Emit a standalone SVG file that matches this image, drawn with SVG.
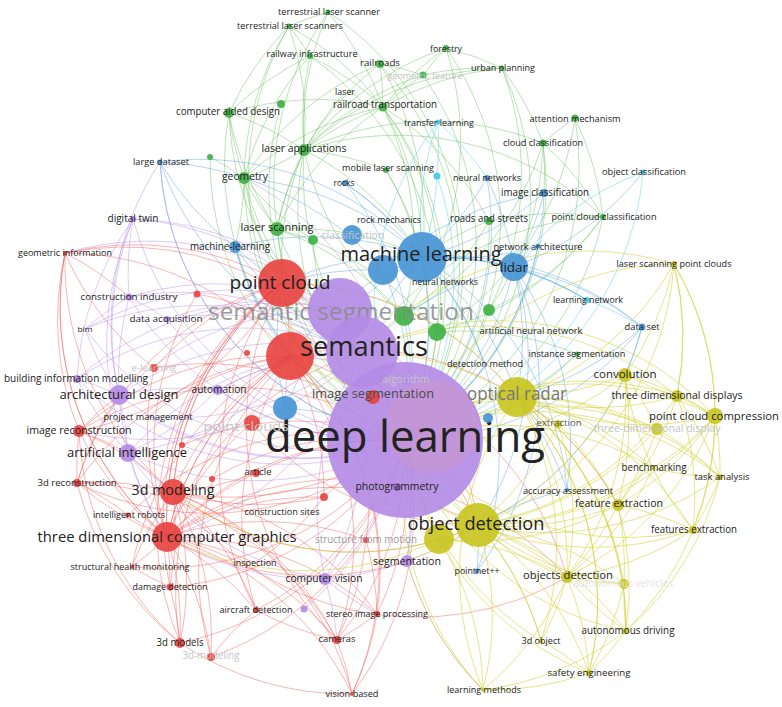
<svg xmlns="http://www.w3.org/2000/svg" width="782" height="707" viewBox="0 0 782 707">
<style>
.e path{fill:none;stroke-width:1;stroke-opacity:.42}
.r path{stroke:#f0524c}
.p path{stroke:#ad82e6}
.g path{stroke:#5cbd50}
.b path{stroke:#4f9ce0}
.c path{stroke:#3fcbe8}
.y path{stroke:#d2cf2e;stroke-opacity:.55}
circle{fill-opacity:.9}
.R{fill:#e8413e}.G{fill:#3cb043}.B{fill:#4592d4}.Y{fill:#c8c41e}.P{fill:#b48be6}.C{fill:#3ec8e8}
text{font-family:"Open Sans","Noto Sans",sans-serif;fill:#222;text-anchor:middle}
text.f{fill:#c4c4c4}
</style>
<rect width="782" height="707" fill="#fff"/>
<g id="connectors" class="e">
<g class="r">
<path d="M167 537A300 300 0 0 1 77 483"/><path d="M167 537A300 300 0 0 1 128 515"/><path d="M167 537A300 300 0 0 1 132 567"/><path d="M167 537A300 300 0 0 1 170 587"/><path d="M167 537A300 300 0 0 1 180 643"/><path d="M167 537A300 300 0 0 1 211 657"/><path d="M167 537A300 300 0 0 1 256 610"/><path d="M167 537A300 300 0 0 1 255 563"/><path d="M167 537A300 300 0 0 1 337 640"/><path d="M167 537A300 300 0 0 1 352 694"/><path d="M167 537A300 300 0 0 1 79 431"/><path d="M167 537A300 300 0 0 1 282 283"/><path d="M167 537A300 300 0 0 1 290 356"/><path d="M167 537A300 300 0 0 1 405 440"/><path d="M167 537A300 300 0 0 1 362 352"/><path d="M167 537A300 300 0 0 1 324 497"/><path d="M167 537A300 300 0 0 1 256 473"/><path d="M167 537A300 300 0 0 1 377 614"/><path d="M167 537A300 300 0 0 1 65 253"/><path d="M167 537A300 300 0 0 1 478 525"/><path d="M167 537A300 300 0 0 1 252 423"/><path d="M167 537A300 300 0 0 1 154 368"/><path d="M167 537A300 300 0 0 1 366 540"/><path d="M167 537A300 300 0 0 1 567 577"/><path d="M167 537A300 300 0 0 0 407 561"/>
<path d="M173 492A300 300 0 0 0 77 483"/><path d="M173 492A300 300 0 0 0 79 431"/><path d="M173 492A300 300 0 0 1 282 283"/><path d="M173 492A300 300 0 0 1 290 356"/><path d="M173 492A300 300 0 0 0 405 440"/><path d="M173 492A300 300 0 0 1 180 643"/><path d="M173 492A300 300 0 0 1 170 587"/><path d="M173 492A300 300 0 0 0 132 567"/><path d="M173 492A300 300 0 0 1 256 610"/><path d="M173 492A300 300 0 0 1 337 640"/><path d="M173 492A300 300 0 0 1 377 614"/><path d="M173 492A300 300 0 0 1 352 694"/><path d="M173 492A300 300 0 0 0 324 497"/><path d="M173 492A300 300 0 0 0 256 473"/><path d="M173 492A300 300 0 0 1 65 253"/><path d="M173 492A300 300 0 0 0 567 577"/><path d="M173 492A300 300 0 0 1 211 657"/><path d="M173 492A300 300 0 0 0 478 525"/>
<path d="M282 283A300 300 0 0 0 65 253"/><path d="M282 283A300 300 0 0 1 290 356"/><path d="M282 283A300 300 0 0 1 79 431"/><path d="M282 283A300 300 0 0 0 77 483"/><path d="M282 283A300 300 0 0 0 180 643"/><path d="M282 283A300 300 0 0 0 154 368"/><path d="M282 283A300 300 0 0 1 478 525"/><path d="M282 283A300 300 0 0 1 517 397"/><path d="M282 283A300 300 0 0 1 366 540"/><path d="M282 283A300 300 0 0 0 256 610"/><path d="M282 283A300 300 0 0 0 170 587"/><path d="M282 283A300 300 0 0 0 337 640"/><path d="M282 283A300 300 0 0 1 405 440"/><path d="M282 283A300 300 0 0 0 167 537"/><path d="M282 283A300 300 0 0 0 173 492"/>
<path d="M290 356A300 300 0 0 0 65 253"/><path d="M290 356A300 300 0 0 0 79 431"/><path d="M290 356A300 300 0 0 0 77 483"/><path d="M290 356A300 300 0 0 0 180 643"/><path d="M290 356A300 300 0 0 0 211 657"/><path d="M290 356A300 300 0 0 1 352 694"/><path d="M290 356A300 300 0 0 1 337 640"/><path d="M290 356A300 300 0 0 0 256 610"/><path d="M290 356A300 300 0 0 0 132 567"/><path d="M290 356A300 300 0 0 1 567 577"/><path d="M290 356A300 300 0 0 1 618 505"/><path d="M290 356A300 300 0 0 0 148 417"/><path d="M290 356A300 300 0 0 1 324 497"/><path d="M290 356A300 300 0 0 1 377 614"/><path d="M290 356A300 300 0 0 1 478 525"/><path d="M290 356A300 300 0 0 0 167 537"/>
<path d="M79 431A300 300 0 0 0 77 483"/><path d="M79 431A300 300 0 0 1 128 453"/><path d="M77 483A300 300 0 0 0 180 643"/><path d="M170 587A300 300 0 0 1 180 643"/><path d="M132 567A300 300 0 0 0 170 587"/><path d="M337 640A300 300 0 0 1 352 694"/><path d="M377 614A300 300 0 0 1 337 640"/><path d="M256 610A300 300 0 0 0 211 657"/><path d="M255 563A300 300 0 0 0 324 497"/><path d="M366 540A300 300 0 0 1 337 640"/><path d="M366 540A300 300 0 0 1 377 614"/><path d="M65 253A300 300 0 0 0 154 368"/><path d="M65 253A300 300 0 0 1 129 297"/><path d="M77 483A300 300 0 0 1 119 395"/><path d="M79 431A300 300 0 0 1 119 395"/><path d="M128 515A300 300 0 0 0 77 483"/><path d="M377 614A300 300 0 0 1 352 694"/><path d="M256 610A300 300 0 0 0 337 640"/><path d="M180 643A300 300 0 0 0 352 694"/><path d="M65 253A300 300 0 0 0 79 431"/><path d="M79 431A300 300 0 0 0 180 643"/><path d="M65 253A300 300 0 0 0 167 537"/><path d="M77 483A300 300 0 0 1 337 640"/>
<path d="M212 479A300 300 0 0 1 405 440"/><path d="M197 294A300 300 0 0 1 405 440"/><path d="M197 294A300 300 0 0 0 167 537"/><path d="M324 497A300 300 0 0 1 405 440"/><path d="M256 473A300 300 0 0 1 405 440"/><path d="M377 614A300 300 0 0 0 405 440"/><path d="M337 640A300 300 0 0 0 405 440"/><path d="M352 694A300 300 0 0 0 405 440"/><path d="M256 610A300 300 0 0 0 405 440"/><path d="M180 643A300 300 0 0 0 405 440"/><path d="M170 587A300 300 0 0 0 405 440"/><path d="M132 567A300 300 0 0 0 405 440"/><path d="M77 483A300 300 0 0 0 405 440"/><path d="M79 431A300 300 0 0 1 405 440"/><path d="M65 253A300 300 0 0 1 405 440"/><path d="M154 368A300 300 0 0 1 405 440"/><path d="M182 445A300 300 0 0 1 405 440"/><path d="M211 657A300 300 0 0 0 405 440"/><path d="M252 423A300 300 0 0 0 478 525"/><path d="M128 515A300 300 0 0 1 405 440"/>
</g>
<g class="p">
<path d="M405 440A300 300 0 0 1 119 395"/><path d="M405 440A300 300 0 0 1 128 453"/><path d="M405 440A300 300 0 0 1 129 297"/><path d="M405 440A300 300 0 0 1 133 219"/><path d="M405 440A300 300 0 0 1 77 379"/><path d="M405 440A300 300 0 0 1 218 390"/><path d="M405 440A300 300 0 0 1 325 579"/><path d="M405 440A300 300 0 0 1 407 561"/><path d="M405 440A300 300 0 0 1 167 319"/><path d="M405 440A300 300 0 0 1 85 329"/><path d="M405 440A300 300 0 0 1 148 417"/><path d="M405 440A300 300 0 0 1 160 162"/><path d="M405 440A300 300 0 0 1 304 609"/><path d="M405 440A300 300 0 0 0 244 178"/>
<path d="M362 352A300 300 0 0 0 119 395"/><path d="M362 352A300 300 0 0 0 128 453"/><path d="M362 352A300 300 0 0 0 129 297"/><path d="M362 352A300 300 0 0 0 133 219"/><path d="M362 352A300 300 0 0 0 325 579"/><path d="M362 352A300 300 0 0 0 77 379"/><path d="M362 352A300 300 0 0 0 167 319"/><path d="M362 352A300 300 0 0 0 218 390"/><path d="M362 352A300 300 0 0 1 148 417"/><path d="M362 352A300 300 0 0 1 407 561"/><path d="M362 352A300 300 0 0 0 85 329"/><path d="M362 352A300 300 0 0 1 79 431"/><path d="M362 352A300 300 0 0 1 167 537"/>
<path d="M340 310A300 300 0 0 0 119 395"/><path d="M340 310A300 300 0 0 0 129 297"/><path d="M340 310A300 300 0 0 0 133 219"/><path d="M340 310A300 300 0 0 1 128 453"/><path d="M340 310A300 300 0 0 0 85 329"/><path d="M340 310A300 300 0 0 1 325 579"/><path d="M340 310A300 300 0 0 0 77 379"/><path d="M340 310A300 300 0 0 0 167 319"/><path d="M340 310A300 300 0 0 0 65 253"/>
<path d="M119 395A300 300 0 0 1 128 453"/><path d="M119 395A300 300 0 0 0 77 379"/><path d="M119 395A300 300 0 0 1 129 297"/><path d="M119 395A300 300 0 0 1 133 219"/><path d="M128 453A300 300 0 0 0 325 579"/><path d="M325 579A300 300 0 0 0 407 561"/><path d="M119 395A300 300 0 0 1 85 329"/><path d="M129 297A300 300 0 0 1 133 219"/><path d="M129 297A300 300 0 0 0 85 329"/><path d="M167 319A300 300 0 0 0 129 297"/><path d="M128 453A300 300 0 0 0 167 537"/><path d="M128 453A300 300 0 0 0 173 492"/><path d="M325 579A300 300 0 0 1 167 537"/><path d="M218 390A300 300 0 0 0 119 395"/><path d="M218 390A300 300 0 0 1 128 453"/><path d="M133 219A300 300 0 0 0 77 379"/><path d="M407 561A300 300 0 0 0 478 525"/><path d="M407 561A300 300 0 0 0 483 690"/><path d="M325 579A300 300 0 0 0 377 614"/><path d="M325 579A300 300 0 0 1 337 640"/><path d="M128 453A300 300 0 0 1 77 379"/><path d="M133 219A300 300 0 0 0 128 453"/><path d="M119 395A300 300 0 0 0 167 537"/><path d="M218 390A300 300 0 0 1 362 352"/><path d="M160 162A300 300 0 0 0 119 395"/>
</g>
<g class="g">
<path d="M304 150A300 300 0 0 0 229 113"/><path d="M304 150A300 300 0 0 1 244 178"/><path d="M304 150A300 300 0 0 1 383 107"/><path d="M304 150A300 300 0 0 1 380 64"/><path d="M304 150A300 300 0 0 1 310 56"/><path d="M304 150A300 300 0 0 1 328 12"/><path d="M304 150A300 300 0 0 0 289 26"/><path d="M304 150A300 300 0 0 1 386 170"/><path d="M304 150A300 300 0 0 0 277 229"/><path d="M304 150A300 300 0 0 1 422 257"/><path d="M304 150A300 300 0 0 0 405 440"/><path d="M304 150A300 300 0 0 0 362 352"/><path d="M304 150A300 300 0 0 1 446 48"/><path d="M304 150A300 300 0 0 1 423 75"/><path d="M304 150A300 300 0 0 1 502 68"/><path d="M304 150A300 300 0 0 1 543 143"/><path d="M304 150A300 300 0 0 1 603 217"/><path d="M304 150A300 300 0 0 0 404 316"/><path d="M304 150A300 300 0 0 0 282 283"/>
<path d="M383 107A300 300 0 0 0 380 64"/><path d="M383 107A300 300 0 0 0 310 56"/><path d="M383 107A300 300 0 0 0 328 12"/><path d="M383 107A300 300 0 0 1 446 48"/><path d="M383 107A300 300 0 0 1 423 75"/><path d="M383 107A300 300 0 0 0 277 229"/><path d="M383 107A300 300 0 0 1 405 440"/><path d="M383 107A300 300 0 0 1 489 221"/><path d="M383 107A300 300 0 0 1 422 257"/><path d="M383 107A300 300 0 0 1 502 68"/><path d="M383 107A300 300 0 0 0 229 113"/><path d="M383 107A300 300 0 0 0 244 178"/><path d="M383 107A300 300 0 0 1 404 316"/><path d="M383 107A300 300 0 0 1 437 332"/><path d="M383 107A300 300 0 0 0 289 26"/>
<path d="M244 178A300 300 0 0 1 229 113"/><path d="M244 178A300 300 0 0 0 277 229"/><path d="M244 178A300 300 0 0 0 405 440"/><path d="M244 178A300 300 0 0 0 362 352"/><path d="M244 178A300 300 0 0 1 289 26"/><path d="M244 178A300 300 0 0 1 310 56"/><path d="M244 178A300 300 0 0 1 380 64"/><path d="M244 178A300 300 0 0 0 313 240"/><path d="M244 178A300 300 0 0 0 282 283"/><path d="M244 178A300 300 0 0 1 235 247"/>
<path d="M229 113A300 300 0 0 1 310 56"/><path d="M229 113A300 300 0 0 0 277 229"/><path d="M229 113A300 300 0 0 0 405 440"/><path d="M229 113A300 300 0 0 1 289 26"/><path d="M229 113A300 300 0 0 0 362 352"/>
<path d="M277 229A300 300 0 0 0 405 440"/><path d="M277 229A300 300 0 0 0 362 352"/><path d="M277 229A300 300 0 0 1 422 257"/><path d="M277 229A300 300 0 0 1 282 283"/><path d="M277 229A300 300 0 0 1 328 12"/><path d="M277 229A300 300 0 0 1 404 316"/><path d="M277 229A300 300 0 0 1 437 332"/>
<path d="M446 48A300 300 0 0 0 423 75"/><path d="M446 48A300 300 0 0 1 502 68"/><path d="M446 48A300 300 0 0 1 405 440"/><path d="M446 48A300 300 0 0 1 404 316"/><path d="M502 68A300 300 0 0 1 405 440"/><path d="M502 68A300 300 0 0 1 543 143"/><path d="M502 68A300 300 0 0 1 489 310"/><path d="M502 68A300 300 0 0 0 423 75"/>
<path d="M543 143A300 300 0 0 1 575 118"/><path d="M543 143A300 300 0 0 1 603 217"/><path d="M543 143A300 300 0 0 1 405 440"/><path d="M543 143A300 300 0 0 1 404 316"/><path d="M543 143A300 300 0 0 1 544 193"/><path d="M543 143A300 300 0 0 1 489 310"/><path d="M575 118A300 300 0 0 1 603 217"/><path d="M575 118A300 300 0 0 1 405 440"/><path d="M575 118A300 300 0 0 1 437 332"/>
<path d="M603 217A300 300 0 0 1 405 440"/><path d="M603 217A300 300 0 0 1 437 332"/><path d="M603 217A300 300 0 0 0 362 352"/><path d="M603 217A300 300 0 0 0 489 221"/><path d="M603 217A300 300 0 0 1 489 310"/><path d="M489 221A300 300 0 0 0 422 257"/><path d="M489 221A300 300 0 0 1 405 440"/><path d="M489 221A300 300 0 0 1 404 316"/>
<path d="M404 316A300 300 0 0 1 405 440"/><path d="M437 332A300 300 0 0 1 405 440"/><path d="M489 310A300 300 0 0 1 405 440"/><path d="M577 354A300 300 0 0 1 405 440"/><path d="M577 354A300 300 0 0 1 517 397"/><path d="M577 354A300 300 0 0 0 437 332"/>
<path d="M328 12A300 300 0 0 0 289 26"/><path d="M328 12A300 300 0 0 1 405 440"/><path d="M310 56A300 300 0 0 0 289 26"/><path d="M310 56A300 300 0 0 1 405 440"/><path d="M380 64A300 300 0 0 1 405 440"/><path d="M380 64A300 300 0 0 1 422 257"/><path d="M380 64A300 300 0 0 1 423 75"/><path d="M386 170A300 300 0 0 1 405 440"/><path d="M386 170A300 300 0 0 1 422 257"/><path d="M281 104A300 300 0 0 0 405 440"/><path d="M210 157A300 300 0 0 1 244 178"/><path d="M210 157A300 300 0 0 0 405 440"/><path d="M423 75A300 300 0 0 1 405 440"/><path d="M289 26A300 300 0 0 0 405 440"/><path d="M345 92A300 300 0 0 0 277 229"/><path d="M313 240A300 300 0 0 0 405 440"/>
</g>
<g class="b">
<path d="M422 257A300 300 0 0 0 160 162"/><path d="M422 257A300 300 0 0 0 235 247"/><path d="M422 257A300 300 0 0 1 514 267"/><path d="M422 257A300 300 0 0 0 487 178"/><path d="M422 257A300 300 0 0 0 544 193"/><path d="M422 257A300 300 0 0 0 345 183"/><path d="M422 257A300 300 0 0 0 538 246"/><path d="M422 257A300 300 0 0 1 642 327"/><path d="M422 257A300 300 0 0 1 587 300"/><path d="M422 257A300 300 0 0 1 405 440"/><path d="M422 257A300 300 0 0 0 362 352"/><path d="M422 257A300 300 0 0 1 517 397"/><path d="M422 257A300 300 0 0 1 477 571"/><path d="M422 257A300 300 0 0 1 567 490"/><path d="M422 257A300 300 0 0 0 285 408"/><path d="M422 257A300 300 0 0 0 244 178"/><path d="M422 257A300 300 0 0 0 282 283"/><path d="M422 257A300 300 0 0 0 290 356"/><path d="M422 257A300 300 0 0 1 485 364"/>
<path d="M514 267A300 300 0 0 0 487 178"/><path d="M514 267A300 300 0 0 0 544 193"/><path d="M514 267A300 300 0 0 1 642 327"/><path d="M514 267A300 300 0 0 1 587 300"/><path d="M514 267A300 300 0 0 1 405 440"/><path d="M514 267A300 300 0 0 1 517 397"/><path d="M514 267A300 300 0 0 1 477 571"/><path d="M514 267A300 300 0 0 1 567 490"/><path d="M514 267A300 300 0 0 0 643 172"/><path d="M514 267A300 300 0 0 0 538 246"/><path d="M514 267A300 300 0 0 0 362 352"/><path d="M514 267A300 300 0 0 1 478 525"/>
<path d="M160 162A300 300 0 0 1 244 178"/><path d="M160 162A300 300 0 0 0 405 440"/><path d="M160 162A300 300 0 0 0 362 352"/><path d="M160 162A300 300 0 0 0 235 247"/><path d="M235 247A300 300 0 0 0 405 440"/><path d="M235 247A300 300 0 0 0 282 283"/><path d="M235 247A300 300 0 0 0 290 356"/><path d="M235 247A300 300 0 0 0 362 352"/><path d="M285 408A300 300 0 0 1 405 440"/><path d="M285 408A300 300 0 0 1 282 283"/><path d="M285 408A300 300 0 0 1 290 356"/><path d="M642 327A300 300 0 0 1 405 440"/><path d="M642 327A300 300 0 0 1 517 397"/><path d="M642 327A300 300 0 0 1 625 375"/><path d="M567 490A300 300 0 0 0 478 525"/><path d="M477 571A300 300 0 0 0 478 525"/><path d="M487 178A300 300 0 0 1 405 440"/><path d="M544 193A300 300 0 0 1 405 440"/><path d="M345 183A300 300 0 0 1 405 440"/><path d="M538 246A300 300 0 0 1 405 440"/><path d="M383 270A300 300 0 0 1 405 440"/><path d="M383 270A300 300 0 0 0 282 283"/><path d="M383 270A300 300 0 0 0 244 178"/><path d="M567 490A300 300 0 0 0 517 397"/><path d="M642 327A300 300 0 0 1 478 525"/><path d="M544 193A300 300 0 0 0 383 270"/><path d="M345 183A300 300 0 0 1 389 220"/>
</g>
<g class="c">
<path d="M438 122A300 300 0 0 0 405 440"/><path d="M438 122A300 300 0 0 0 422 257"/><path d="M438 122A300 300 0 0 1 487 178"/><path d="M438 122A300 300 0 0 1 437 176"/><path d="M643 172A300 300 0 0 1 405 440"/><path d="M643 172A300 300 0 0 0 514 267"/><path d="M587 300A300 300 0 0 1 405 440"/><path d="M587 300A300 300 0 0 1 642 327"/><path d="M587 300A300 300 0 0 0 422 257"/><path d="M437 176A300 300 0 0 1 422 257"/><path d="M437 176A300 300 0 0 1 405 440"/>
</g>
<g class="y">
<path d="M517 397A300 300 0 0 0 625 375"/><path d="M517 397A300 300 0 0 0 677 396"/><path d="M517 397A300 300 0 0 0 715 416"/><path d="M517 397A300 300 0 0 1 657 429"/><path d="M517 397A300 300 0 0 0 674 264"/><path d="M517 397A300 300 0 0 1 653 468"/><path d="M517 397A300 300 0 0 1 720 477"/><path d="M517 397A300 300 0 0 1 618 505"/><path d="M517 397A300 300 0 0 1 693 530"/><path d="M517 397A300 300 0 0 1 567 577"/><path d="M517 397A300 300 0 0 1 624 584"/><path d="M517 397A300 300 0 0 1 626 631"/><path d="M517 397A300 300 0 0 1 589 673"/><path d="M517 397A300 300 0 0 1 541 641"/><path d="M517 397A300 300 0 0 0 483 690"/><path d="M517 397A300 300 0 0 1 405 440"/><path d="M517 397A300 300 0 0 0 362 352"/><path d="M517 397A300 300 0 0 0 282 283"/><path d="M517 397A300 300 0 0 1 290 356"/><path d="M517 397A300 300 0 0 0 558 424"/>
<path d="M478 525A300 300 0 0 0 625 375"/><path d="M478 525A300 300 0 0 0 677 396"/><path d="M478 525A300 300 0 0 0 715 416"/><path d="M478 525A300 300 0 0 0 657 429"/><path d="M478 525A300 300 0 0 0 653 468"/><path d="M478 525A300 300 0 0 0 720 477"/><path d="M478 525A300 300 0 0 0 618 505"/><path d="M478 525A300 300 0 0 0 693 530"/><path d="M478 525A300 300 0 0 1 567 577"/><path d="M478 525A300 300 0 0 1 624 584"/><path d="M478 525A300 300 0 0 1 626 631"/><path d="M478 525A300 300 0 0 1 589 673"/><path d="M478 525A300 300 0 0 1 541 641"/><path d="M478 525A300 300 0 0 1 483 690"/><path d="M478 525A300 300 0 0 0 405 440"/><path d="M478 525A300 300 0 0 0 362 352"/><path d="M478 525A300 300 0 0 1 282 283"/><path d="M478 525A300 300 0 0 0 674 264"/><path d="M478 525A300 300 0 0 1 407 561"/><path d="M478 525A300 300 0 0 0 558 424"/><path d="M478 525A300 300 0 0 1 173 492"/><path d="M439 539A300 300 0 0 1 167 537"/>
<path d="M625 375A300 300 0 0 0 677 396"/><path d="M625 375A300 300 0 0 1 715 416"/><path d="M625 375A300 300 0 0 0 674 264"/><path d="M625 375A300 300 0 0 1 618 505"/><path d="M625 375A300 300 0 0 1 405 440"/><path d="M677 396A300 300 0 0 1 715 416"/><path d="M677 396A300 300 0 0 0 674 264"/><path d="M715 416A300 300 0 0 0 674 264"/><path d="M715 416A300 300 0 0 1 720 477"/><path d="M715 416A300 300 0 0 1 693 530"/><path d="M715 416A300 300 0 0 1 653 468"/><path d="M657 429A300 300 0 0 1 618 505"/><path d="M618 505A300 300 0 0 1 693 530"/><path d="M618 505A300 300 0 0 1 567 577"/><path d="M567 577A300 300 0 0 1 589 673"/><path d="M567 577A300 300 0 0 0 626 631"/><path d="M567 577A300 300 0 0 0 624 584"/><path d="M567 577A300 300 0 0 1 541 641"/><path d="M626 631A300 300 0 0 1 589 673"/><path d="M624 584A300 300 0 0 1 589 673"/><path d="M483 690A300 300 0 0 1 407 561"/><path d="M483 690A300 300 0 0 0 567 577"/><path d="M674 264A300 300 0 0 0 405 440"/><path d="M653 468A300 300 0 0 0 720 477"/><path d="M558 424A300 300 0 0 1 618 505"/>
<path d="M677 396A300 300 0 0 0 405 440"/><path d="M715 416A300 300 0 0 0 405 440"/><path d="M693 530A300 300 0 0 1 405 440"/><path d="M567 577A300 300 0 0 1 405 440"/><path d="M626 631A300 300 0 0 1 405 440"/><path d="M589 673A300 300 0 0 1 405 440"/><path d="M720 477A300 300 0 0 0 405 440"/><path d="M653 468A300 300 0 0 0 405 440"/><path d="M624 584A300 300 0 0 1 405 440"/><path d="M657 429A300 300 0 0 0 405 440"/><path d="M483 690A300 300 0 0 1 405 440"/><path d="M541 641A300 300 0 0 1 405 440"/><path d="M674 264A300 300 0 0 0 362 352"/><path d="M715 416A300 300 0 0 0 362 352"/><path d="M677 396A300 300 0 0 0 362 352"/><path d="M677 396A300 300 0 0 1 720 477"/><path d="M693 530A300 300 0 0 0 720 477"/><path d="M625 375A300 300 0 0 1 657 429"/><path d="M618 505A300 300 0 0 1 624 584"/><path d="M618 505A300 300 0 0 1 626 631"/><path d="M541 641A300 300 0 0 1 589 673"/><path d="M483 690A300 300 0 0 0 589 673"/><path d="M483 690A300 300 0 0 0 626 631"/><path d="M624 584A300 300 0 0 0 626 631"/><path d="M674 264A300 300 0 0 1 715 416"/>
<path d="M625 375A300 300 0 0 0 693 530"/><path d="M625 375A300 300 0 0 1 567 577"/><path d="M677 396A300 300 0 0 1 618 505"/><path d="M677 396A300 300 0 0 1 693 530"/><path d="M715 416A300 300 0 0 1 618 505"/><path d="M715 416A300 300 0 0 1 567 577"/><path d="M657 429A300 300 0 0 1 720 477"/><path d="M653 468A300 300 0 0 1 567 577"/><path d="M693 530A300 300 0 0 1 567 577"/><path d="M674 264A300 300 0 0 1 677 396"/><path d="M541 641A300 300 0 0 0 478 525"/><path d="M589 673A300 300 0 0 0 517 397"/><path d="M626 631A300 300 0 0 0 517 397"/><path d="M558 424A300 300 0 0 1 567 577"/><path d="M439 539A300 300 0 0 1 567 577"/><path d="M439 539A300 300 0 0 0 618 505"/><path d="M439 539A300 300 0 0 1 483 690"/><path d="M720 477A300 300 0 0 1 626 631"/><path d="M715 416A300 300 0 0 1 626 631"/>
</g>
</g>

<g id="n-deep-learning"><circle class="P" cx="405" cy="440" r="78"/><circle cx="432" cy="426" r="46" fill="#c496d6" fill-opacity=".55"/><text x="405" y="452" font-size="43" textLength="280" lengthAdjust="spacingAndGlyphs">deep learning</text></g>
<g id="n-red-core"><circle class="R" cx="290" cy="356" r="24"/></g>
<g id="n-green-1"><circle class="G" cx="404" cy="316" r="10"/></g>
<g id="n-green-2"><circle class="G" cx="437" cy="332" r="9"/></g>
<g id="n-green-3"><circle class="G" cx="489" cy="310" r="6"/></g>
<g id="n-semantic-segmentation"><circle class="P" cx="340" cy="310" r="32"/><text x="341" y="320" font-size="24" style="fill:#8a8a8a;fill-opacity:.85" textLength="266" lengthAdjust="spacingAndGlyphs">semantic segmentation</text></g>
<g id="n-point-cloud"><circle class="R" cx="282" cy="283" r="24"/><text x="280" y="289" font-size="19" textLength="101" lengthAdjust="spacingAndGlyphs">point cloud</text></g>
<g id="n-semantics"><circle class="P" cx="362" cy="352" r="36"/><text x="364" y="356" font-size="27" textLength="128" lengthAdjust="spacingAndGlyphs">semantics</text></g>
<g id="n-ml-2"><circle class="B" cx="383" cy="270" r="15"/></g>
<g id="n-machine-learning"><circle class="B" cx="422" cy="257" r="25"/><text x="421" y="261" font-size="20" textLength="161" lengthAdjust="spacingAndGlyphs">machine learning</text></g>
<g id="n-lidar"><circle class="B" cx="514" cy="267" r="14"/><text x="514" y="272" font-size="13" textLength="28" lengthAdjust="spacingAndGlyphs">lidar</text></g>
<g id="n-optical-radar"><circle class="Y" cx="517" cy="397" r="20"/><text x="517" y="400" font-size="17.5" style="fill:#777" textLength="100" lengthAdjust="spacingAndGlyphs">optical radar</text></g>
<g id="n-od-2"><circle class="Y" cx="439" cy="539" r="15"/></g>
<g id="n-object-detection"><circle class="Y" cx="478" cy="525" r="22"/><text x="476" y="530" font-size="18" textLength="137" lengthAdjust="spacingAndGlyphs">object detection</text></g>
<g id="n-three-dimensional-computer-graphics"><circle class="R" cx="167" cy="537" r="15"/><text x="167" y="542" font-size="15" textLength="259" lengthAdjust="spacingAndGlyphs">three dimensional computer graphics</text></g>
<g id="n-3d-modeling"><circle class="R" cx="173" cy="492" r="13"/><text x="173" y="495" font-size="14" textLength="83" lengthAdjust="spacingAndGlyphs">3d modeling</text></g>
<g id="n-blue-core"><circle class="B" cx="285" cy="408" r="12"/></g>
<g id="n-point-clouds"><circle class="R" cx="252" cy="423" r="8"/><text class="f" x="246" y="431" font-size="12" textLength="85" lengthAdjust="spacingAndGlyphs">point clouds</text></g>
<g id="n-architectural-design"><circle class="P" cx="119" cy="395" r="10"/><text x="119" y="399" font-size="13" textLength="119" lengthAdjust="spacingAndGlyphs">architectural design</text></g>
<g id="n-artificial-intelligence"><circle class="P" cx="128" cy="453" r="9"/><text x="127" y="457" font-size="13" textLength="120" lengthAdjust="spacingAndGlyphs">artificial intelligence</text></g>
<g id="n-image-segmentation"><circle class="R" cx="373" cy="397" r="7" fill-opacity=".5"/><text x="373" y="398" font-size="12.5" style="fill:#4a4a4a" textLength="122" lengthAdjust="spacingAndGlyphs">image segmentation</text></g>
<g id="n-algorithm"><circle class="P" cx="406" cy="380" r="5"/><text class="f" x="406" y="383" font-size="10" textLength="47" lengthAdjust="spacingAndGlyphs">algorithm</text></g>
<g id="n-photogrammetry"><circle cx="397" cy="487" r="4" fill="#9a5fb8"/><text x="397" y="490" font-size="10" textLength="83" lengthAdjust="spacingAndGlyphs">photogrammetry</text></g>
<g id="n-laser-scanning"><circle class="G" cx="277" cy="229" r="7"/><text x="277" y="231" font-size="11" textLength="73" lengthAdjust="spacingAndGlyphs">laser scanning</text></g>
<g id="n-green-4"><circle class="G" cx="313" cy="240" r="5"/></g>
<g id="n-classification"><circle class="B" cx="352" cy="235" r="10"/><text class="f" x="353" y="239" font-size="10" textLength="63" lengthAdjust="spacingAndGlyphs">classification</text></g>
<g id="n-laser-applications"><circle class="G" cx="304" cy="150" r="6"/><text x="304" y="152" font-size="10.5" textLength="85" lengthAdjust="spacingAndGlyphs">laser applications</text></g>
<g id="n-geometry"><circle class="G" cx="244" cy="178" r="6"/><text x="245" y="180" font-size="10.5" textLength="46" lengthAdjust="spacingAndGlyphs">geometry</text></g>
<g id="n-machine-learning-2"><circle class="B" cx="235" cy="247" r="6"/><text x="230" y="250" font-size="10.5" textLength="80" lengthAdjust="spacingAndGlyphs">machine-learning</text></g>
<g id="n-computer-aided-design"><circle class="G" cx="229" cy="113" r="5"/><text x="228" y="115" font-size="10" textLength="104" lengthAdjust="spacingAndGlyphs">computer aided design</text></g>
<g id="n-green-5"><circle class="G" cx="281" cy="104" r="4"/></g>
<g id="n-green-6"><circle class="G" cx="210" cy="157" r="3"/></g>
<g id="n-railroad-transportation"><circle class="G" cx="383" cy="107" r="4.5"/><text x="385" y="108" font-size="10.5" textLength="104" lengthAdjust="spacingAndGlyphs">railroad transportation</text></g>
<g id="n-railroads"><circle class="G" cx="380" cy="64" r="4"/><text x="380" y="66" font-size="9.5" textLength="40" lengthAdjust="spacingAndGlyphs">railroads</text></g>
<g id="n-railway-infrastructure"><circle class="G" cx="310" cy="56" r="3"/><text x="312" y="57" font-size="9" textLength="91" lengthAdjust="spacingAndGlyphs">railway infrastructure</text></g>
<g id="n-terrestrial-laser-scanner"><circle class="G" cx="328" cy="12" r="2.5"/><text x="329" y="15" font-size="9" textLength="102" lengthAdjust="spacingAndGlyphs">terrestrial laser scanner</text></g>
<g id="n-terrestrial-laser-scanners"><circle class="G" cx="289" cy="26" r="2.5"/><text x="290" y="29" font-size="9" textLength="106" lengthAdjust="spacingAndGlyphs">terrestrial laser scanners</text></g>
<g id="n-forestry"><circle class="G" cx="446" cy="48" r="3"/><text x="446" y="52" font-size="9" textLength="32" lengthAdjust="spacingAndGlyphs">forestry</text></g>
<g id="n-geometric-feature"><circle class="G" cx="423" cy="75" r="3.5"/><text class="f" x="425" y="79" font-size="9" textLength="75" lengthAdjust="spacingAndGlyphs">geometric feature</text></g>
<g id="n-urban-planning"><circle class="G" cx="502" cy="68" r="2.5"/><text x="503" y="71" font-size="9" textLength="64" lengthAdjust="spacingAndGlyphs">urban planning</text></g>
<g id="n-laser"><text x="345" y="95" font-size="9" textLength="20" lengthAdjust="spacingAndGlyphs">laser</text></g>
<g id="n-transfer-learning"><circle class="C" cx="438" cy="122" r="2.5"/><text x="439" y="126" font-size="9" textLength="70" lengthAdjust="spacingAndGlyphs">transfer learning</text></g>
<g id="n-large-dataset"><circle class="B" cx="160" cy="162" r="2.5"/><text x="161" y="165" font-size="8.5" textLength="56" lengthAdjust="spacingAndGlyphs">large dataset</text></g>
<g id="n-mobile-laser-scanning"><circle class="G" cx="386" cy="170" r="3"/><text x="388" y="171" font-size="9" textLength="92" lengthAdjust="spacingAndGlyphs">mobile laser scanning</text></g>
<g id="n-rocks"><circle class="B" cx="345" cy="183" r="3"/><text x="344" y="186" font-size="8.5" textLength="21" lengthAdjust="spacingAndGlyphs">rocks</text></g>
<g id="n-cyan-1"><circle class="C" cx="437" cy="176" r="3.5"/></g>
<g id="n-neural-networks"><circle class="B" cx="487" cy="178" r="3"/><text x="487" y="181" font-size="9" textLength="68" lengthAdjust="spacingAndGlyphs">neural networks</text></g>
<g id="n-image-classification"><circle class="B" cx="544" cy="193" r="4"/><text x="545" y="196" font-size="10" textLength="88" lengthAdjust="spacingAndGlyphs">image classification</text></g>
<g id="n-cloud-classification"><circle class="G" cx="543" cy="143" r="3.5"/><text x="543" y="146" font-size="9" textLength="80" lengthAdjust="spacingAndGlyphs">cloud classification</text></g>
<g id="n-attention-mechanism"><circle class="G" cx="575" cy="118" r="3.5"/><text x="575" y="122" font-size="9" textLength="91" lengthAdjust="spacingAndGlyphs">attention mechanism</text></g>
<g id="n-object-classification"><circle class="C" cx="643" cy="172" r="2.5"/><text x="644" y="175" font-size="9" textLength="84" lengthAdjust="spacingAndGlyphs">object classification</text></g>
<g id="n-point-cloud-classification"><circle class="G" cx="603" cy="217" r="3"/><text x="604" y="220" font-size="9" textLength="105" lengthAdjust="spacingAndGlyphs">point cloud classification</text></g>
<g id="n-rock-mechanics"><text x="389" y="223" font-size="9" textLength="64" lengthAdjust="spacingAndGlyphs">rock mechanics</text></g>
<g id="n-roads-and-streets"><circle class="G" cx="489" cy="221" r="4"/><text x="489" y="222" font-size="10" textLength="78" lengthAdjust="spacingAndGlyphs">roads and streets</text></g>
<g id="n-digital-twin"><circle class="P" cx="133" cy="219" r="3"/><text x="133" y="222" font-size="10" textLength="51" lengthAdjust="spacingAndGlyphs">digital twin</text></g>
<g id="n-geometric-information"><circle class="R" cx="65" cy="253" r="2"/><text x="65" y="256" font-size="8.5" textLength="94" lengthAdjust="spacingAndGlyphs">geometric information</text></g>
<g id="n-network-architecture"><circle class="B" cx="538" cy="246" r="2.5"/><text x="538" y="250" font-size="8.5" textLength="89" lengthAdjust="spacingAndGlyphs">network architecture</text></g>
<g id="n-neural-networks-2"><text x="445" y="285" font-size="8.5" textLength="66" lengthAdjust="spacingAndGlyphs">neural networks</text></g>
<g id="n-construction-industry"><circle class="P" cx="129" cy="297" r="3.5"/><text x="129" y="300" font-size="9.5" textLength="97" lengthAdjust="spacingAndGlyphs">construction industry</text></g>
<g id="n-red-2"><circle class="R" cx="197" cy="294" r="3.5"/></g>
<g id="n-data-acquisition"><circle class="P" cx="167" cy="319" r="3"/><text x="166" y="322" font-size="9.5" textLength="73" lengthAdjust="spacingAndGlyphs">data acquisition</text></g>
<g id="n-bim"><text x="85" y="331.5" font-size="8" textLength="15" lengthAdjust="spacingAndGlyphs">bim</text></g>
<g id="n-red-3"><circle class="R" cx="247" cy="353" r="3"/></g>
<g id="n-e-learning"><circle class="R" cx="154" cy="368" r="4"/><text class="f" x="154" y="371" font-size="9" textLength="45" lengthAdjust="spacingAndGlyphs">e-learning</text></g>
<g id="n-building-information-modelling"><circle class="P" cx="77" cy="379" r="4"/><text x="76" y="382" font-size="10" textLength="144" lengthAdjust="spacingAndGlyphs">building information modelling</text></g>
<g id="n-automation"><circle class="P" cx="218" cy="390" r="5"/><text x="219" y="393" font-size="10" textLength="55" lengthAdjust="spacingAndGlyphs">automation</text></g>
<g id="n-project-management"><text x="148" y="420" font-size="8.5" textLength="89" lengthAdjust="spacingAndGlyphs">project management</text></g>
<g id="n-image-reconstruction"><circle class="R" cx="79" cy="431" r="6"/><text x="79" y="434" font-size="10" textLength="105" lengthAdjust="spacingAndGlyphs">image reconstruction</text></g>
<g id="n-red-4"><circle class="R" cx="182" cy="445" r="3"/></g>
<g id="n-detection-method"><text x="485" y="367" font-size="9" textLength="76" lengthAdjust="spacingAndGlyphs">detection method</text></g>
<g id="n-artificial-neural-network"><text x="531" y="334" font-size="9" textLength="103" lengthAdjust="spacingAndGlyphs">artificial neural network</text></g>
<g id="n-instance-segmentation"><circle class="G" cx="577" cy="354" r="2.5"/><text x="577" y="357" font-size="9" textLength="97" lengthAdjust="spacingAndGlyphs">instance segmentation</text></g>
<g id="n-learning-network"><circle class="C" cx="587" cy="300" r="3"/><text x="588" y="303" font-size="9" textLength="70" lengthAdjust="spacingAndGlyphs">learning network</text></g>
<g id="n-data-set"><circle class="B" cx="642" cy="327" r="3.5"/><text x="642" y="330" font-size="9" textLength="35" lengthAdjust="spacingAndGlyphs">data set</text></g>
<g id="n-laser-scanning-point-clouds"><circle class="Y" cx="674" cy="264" r="3"/><text x="674" y="267" font-size="9" textLength="115" lengthAdjust="spacingAndGlyphs">laser scanning point clouds</text></g>
<g id="n-blue-5"><circle class="B" cx="488" cy="418" r="5"/></g>
<g id="n-convolution"><circle class="Y" cx="625" cy="375" r="7"/><text x="625" y="377.5" font-size="11.5" textLength="63" lengthAdjust="spacingAndGlyphs">convolution</text></g>
<g id="n-three-dimensional-displays"><circle class="Y" cx="677" cy="396" r="6"/><text x="677" y="399" font-size="10.5" textLength="131" lengthAdjust="spacingAndGlyphs">three dimensional displays</text></g>
<g id="n-point-cloud-compression"><circle class="Y" cx="715" cy="416" r="8"/><text x="714" y="419.5" font-size="11.5" textLength="130" lengthAdjust="spacingAndGlyphs">point cloud compression</text></g>
<g id="n-three-dimensional-display"><circle class="Y" cx="657" cy="429" r="6"/><text class="f" x="657" y="432" font-size="10.5" textLength="127" lengthAdjust="spacingAndGlyphs">three-dimensional display</text></g>
<g id="n-extraction"><circle class="Y" cx="558" cy="424" r="4"/><text x="559" y="426" font-size="9.5" style="fill:#5a5a5a" textLength="45" lengthAdjust="spacingAndGlyphs">extraction</text></g>
<g id="n-benchmarking"><circle class="Y" cx="653" cy="468" r="2"/><text x="654" y="471" font-size="10" textLength="65" lengthAdjust="spacingAndGlyphs">benchmarking</text></g>
<g id="n-task-analysis"><circle class="Y" cx="720" cy="477" r="3"/><text x="722" y="480" font-size="8.5" textLength="55" lengthAdjust="spacingAndGlyphs">task analysis</text></g>
<g id="n-accuracy-assessment"><circle class="B" cx="567" cy="490" r="2"/><text x="568" y="494" font-size="8.5" textLength="90" lengthAdjust="spacingAndGlyphs">accuracy assessment</text></g>
<g id="n-feature-extraction"><circle class="Y" cx="618" cy="505" r="6"/><text x="619" y="507" font-size="10.5" textLength="88" lengthAdjust="spacingAndGlyphs">feature extraction</text></g>
<g id="n-features-extraction"><circle class="Y" cx="693" cy="530" r="4"/><text x="694" y="533" font-size="10" textLength="86" lengthAdjust="spacingAndGlyphs">features extraction</text></g>
<g id="n-autonomous-vehicles"><circle class="Y" cx="624" cy="584" r="5"/><text class="f" x="623" y="587" font-size="10" style="fill:#e4e4e4" textLength="100" lengthAdjust="spacingAndGlyphs">autonomous vehicles</text></g>
<g id="n-objects-detection"><circle class="Y" cx="567" cy="577" r="6"/><text x="568" y="579" font-size="11" textLength="90" lengthAdjust="spacingAndGlyphs">objects detection</text></g>
<g id="n-autonomous-driving"><circle class="Y" cx="626" cy="631" r="3"/><text x="628" y="634" font-size="10" textLength="93" lengthAdjust="spacingAndGlyphs">autonomous driving</text></g>
<g id="n-3d-object"><circle class="Y" cx="541" cy="641" r="2"/><text x="541" y="644" font-size="8.5" textLength="39" lengthAdjust="spacingAndGlyphs">3d object</text></g>
<g id="n-safety-engineering"><circle class="Y" cx="589" cy="673" r="3"/><text x="589" y="676" font-size="9.5" textLength="83" lengthAdjust="spacingAndGlyphs">safety engineering</text></g>
<g id="n-learning-methods"><circle class="Y" cx="483" cy="690" r="2"/><text x="484" y="693" font-size="8.5" textLength="74" lengthAdjust="spacingAndGlyphs">learning methods</text></g>
<g id="n-pointnet"><circle class="B" cx="477" cy="571" r="2.5"/><text x="477" y="574" font-size="8.5" textLength="45" lengthAdjust="spacingAndGlyphs">pointnet++</text></g>
<g id="n-segmentation"><circle class="P" cx="407" cy="561" r="6"/><text x="407" y="565" font-size="10" textLength="68" lengthAdjust="spacingAndGlyphs">segmentation</text></g>
<g id="n-structure-from-motion"><circle class="R" cx="366" cy="540" r="3"/><text x="366" y="543" font-size="10" style="fill:#9a9a9a" textLength="102" lengthAdjust="spacingAndGlyphs">structure from motion</text></g>
<g id="n-computer-vision"><circle class="P" cx="325" cy="579" r="6"/><text x="324" y="582" font-size="10.5" textLength="77" lengthAdjust="spacingAndGlyphs">computer vision</text></g>
<g id="n-purple-dot"><circle class="P" cx="304" cy="609" r="3.5"/></g>
<g id="n-stereo-image-processing"><circle class="R" cx="377" cy="614" r="3"/><text x="377" y="617" font-size="9" textLength="102" lengthAdjust="spacingAndGlyphs">stereo image processing</text></g>
<g id="n-cameras"><circle class="R" cx="337" cy="640" r="4"/><text x="337" y="642" font-size="9" textLength="37" lengthAdjust="spacingAndGlyphs">cameras</text></g>
<g id="n-vision-based"><circle class="R" cx="352" cy="694" r="2"/><text x="352" y="697" font-size="9" textLength="53" lengthAdjust="spacingAndGlyphs">vision based</text></g>
<g id="n-construction-sites"><circle class="R" cx="324" cy="497" r="4"/><text x="282" y="515" font-size="9" textLength="75" lengthAdjust="spacingAndGlyphs">construction sites</text></g>
<g id="n-article"><circle class="R" cx="256" cy="473" r="4"/><text x="258" y="475" font-size="8.5" textLength="27" lengthAdjust="spacingAndGlyphs">article</text></g>
<g id="n-red-5"><circle class="R" cx="212" cy="479" r="3"/></g>
<g id="n-3d-reconstruction"><circle class="R" cx="77" cy="483" r="4"/><text x="77" y="486" font-size="9.5" textLength="79" lengthAdjust="spacingAndGlyphs">3d reconstruction</text></g>
<g id="n-intelligent-robots"><circle class="R" cx="128" cy="515" r="2.5"/><text x="129" y="518" font-size="8.5" textLength="72" lengthAdjust="spacingAndGlyphs">intelligent robots</text></g>
<g id="n-structural-health-monitoring"><circle class="R" cx="132" cy="567" r="2"/><text x="130" y="570" font-size="9" textLength="119" lengthAdjust="spacingAndGlyphs">structural health monitoring</text></g>
<g id="n-damage-detection"><circle class="R" cx="170" cy="587" r="3.5"/><text x="170" y="590" font-size="9" textLength="75" lengthAdjust="spacingAndGlyphs">damage detection</text></g>
<g id="n-inspection"><text x="255" y="566" font-size="9" textLength="43" lengthAdjust="spacingAndGlyphs">inspection</text></g>
<g id="n-aircraft-detection"><circle class="R" cx="256" cy="610" r="3"/><text x="256" y="613" font-size="9" textLength="73" lengthAdjust="spacingAndGlyphs">aircraft detection</text></g>
<g id="n-3d-models"><circle class="R" cx="180" cy="643" r="5"/><text x="180" y="646" font-size="10" textLength="47" lengthAdjust="spacingAndGlyphs">3d models</text></g>
<g id="n-3d-modeling-2"><circle class="R" cx="211" cy="657" r="4"/><text class="f" x="211" y="659" font-size="10" textLength="57" lengthAdjust="spacingAndGlyphs">3d-modeling</text></g>
</svg>
